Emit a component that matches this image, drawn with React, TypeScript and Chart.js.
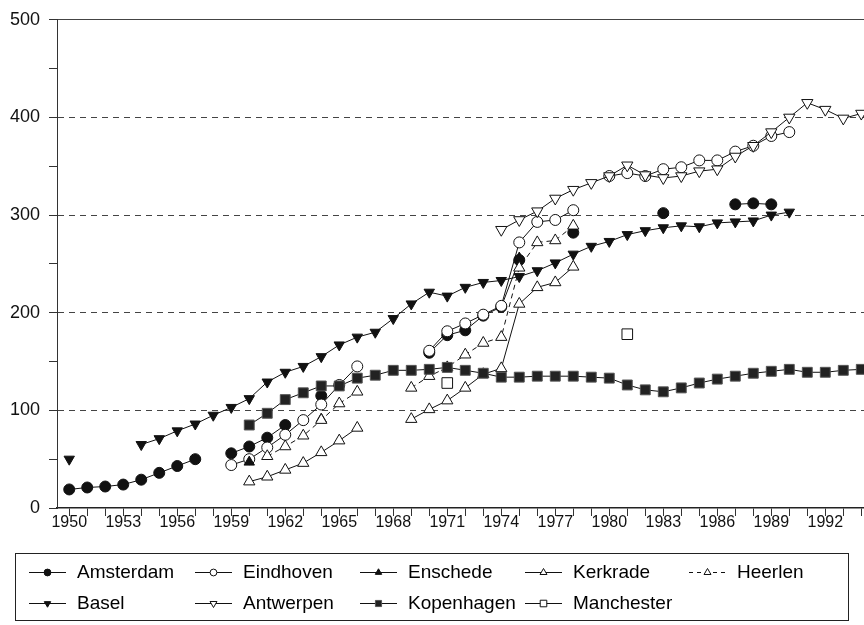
import React, { useEffect, useRef } from 'react';
import { Chart, registerables } from 'chart.js';
import { drawPoint } from 'chart.js/helpers';

Chart.register(...registerables);

const N = null;

const years = [
  1950, 1951, 1952, 1953, 1954, 1955, 1956, 1957, 1958, 1959,
  1960, 1961, 1962, 1963, 1964, 1965, 1966, 1967, 1968, 1969,
  1970, 1971, 1972, 1973, 1974, 1975, 1976, 1977, 1978, 1979,
  1980, 1981, 1982, 1983, 1984, 1985, 1986, 1987, 1988, 1989,
  1990, 1991, 1992, 1993, 1994,
];

const amsterdam = [
  19, 21, 22, 24, 29, 36, 43, 50, N, 56,
  63, 72, 85, N, 115, N, N, N, N, N,
  159, 177, 182, 197, 206, 254, N, N, 282, N,
  N, N, N, 302, N, N, N, 311, 312, 311,
  N, N, N, N, N,
];

const eindhoven = [
  N, N, N, N, N, N, N, N, N, 44,
  50, 62, 75, 90, 106, 126, 145, N, N, N,
  161, 181, 189, 198, 207, 272, 293, 295, 305, N,
  340, 343, 340, 347, 349, 356, 356, 365, 371, 381,
  385, N, N, N, N,
];

const enschede = [
  N, N, N, N, N, N, N, N, N, N,
  47, N, N, N, 91, N, N, N, N, N,
  N, N, N, N, N, 256, N, N, N, N,
  N, N, N, N, N, N, N, N, N, N,
  N, N, N, N, N,
];

const kerkrade = [
  N, N, N, N, N, N, N, N, N, N,
  27, 32, 39, 46, 57, 69, 82, N, N, 91,
  101, 110, 123, 137, 143, 209, 226, 231, 247, N,
  N, N, N, N, N, N, N, N, N, N,
  N, N, N, N, N,
];

const heerlen = [
  N, N, N, N, N, N, N, N, N, N,
  N, 53, 63, 74, 90, 107, 119, N, N, 123,
  135, 144, 157, 169, 175, 246, 272, 274, 289, N,
  N, N, N, N, N, N, N, N, N, N,
  N, N, N, N, N,
];

const basel = [
  50, N, N, N, 65, 71, 79, 86, 95, 103,
  112, 129, 139, 145, 155, 167, 175, 180, 194, 209,
  221, 217, 226, 231, 233, 237, 243, 251, 260, 268,
  273, 280, 284, 287, 289, 288, 292, 293, 294, 300,
  303, N, N, N, N,
];

const antwerpen = [
  N, N, N, N, N, N, N, N, N, N,
  N, N, N, N, N, N, N, N, N, N,
  N, N, N, N, 285, 295, 304, 317, 326, 333,
  340, 351, 341, 338, 340, 345, 347, 360, 371, 385,
  400, 415, 408, 399, 404,
];

const kopenhagen = [
  N, N, N, N, N, N, N, N, N, N,
  85, 97, 111, 118, 125, 125, 133, 136, 141, 141,
  142, 144, 141, 138, 134, 134, 135, 135, 135, 134,
  133, 126, 121, 119, 123, 128, 132, 135, 138, 140,
  142, 139, 139, 141, 142,
];

const manchester = [
  N, N, N, N, N, N, N, N, N, N,
  N, N, N, N, N, N, N, N, N, N,
  N, 128, N, N, N, N, N, N, N, N,
  N, 178, N, N, N, N, N, N, N, N,
  N, N, N, N, N,
];

const yTicks = [0, 100, 200, 300, 400, 500];

const FONT = '"Liberation Sans", Arial, sans-serif';
const INK = '#111';

type SeriesDef = {
  label: string;
  values: (number | null)[];
  style: string;
  rotation: number;
  filled: boolean;
  radius: number;
  dashed: boolean;
  row: number;
  col: number;
};

const series: SeriesDef[] = [
  { label: 'Amsterdam', values: amsterdam, style: 'circle', rotation: 0, filled: true, radius: 5.5, dashed: false, row: 0, col: 0 },
  { label: 'Eindhoven', values: eindhoven, style: 'circle', rotation: 0, filled: false, radius: 5.5, dashed: false, row: 0, col: 1 },
  { label: 'Enschede', values: enschede, style: 'triangle', rotation: 0, filled: true, radius: 6, dashed: false, row: 0, col: 2 },
  { label: 'Kerkrade', values: kerkrade, style: 'triangle', rotation: 0, filled: false, radius: 6.5, dashed: false, row: 0, col: 3 },
  { label: 'Heerlen', values: heerlen, style: 'triangle', rotation: 0, filled: false, radius: 6.5, dashed: true, row: 0, col: 4 },
  { label: 'Basel', values: basel, style: 'triangle', rotation: 180, filled: true, radius: 6, dashed: false, row: 1, col: 0 },
  { label: 'Antwerpen', values: antwerpen, style: 'triangle', rotation: 180, filled: false, radius: 6.5, dashed: false, row: 1, col: 1 },
  { label: 'Kopenhagen', values: kopenhagen, style: 'rect', rotation: 0, filled: true, radius: 7, dashed: false, row: 1, col: 2 },
  { label: 'Manchester', values: manchester, style: 'rect', rotation: 0, filled: false, radius: 7.5, dashed: false, row: 1, col: 3 },
];

const legendPlugin = {
  id: 'scanLegend',
  afterDraw(chart: any) {
    const ctx = chart.ctx as CanvasRenderingContext2D;
    const colText = [77, 243, 408, 573, 737];
    const rowY = [572, 603];
    ctx.save();
    ctx.strokeStyle = '#222';
    ctx.lineWidth = 1;
    ctx.setLineDash([]);
    ctx.strokeRect(15.5, 553.5, 833, 67);
    series.forEach((s, i) => {
      const ds = chart.data.datasets[i];
      const tx = colText[s.col];
      const y = rowY[s.row];
      ctx.strokeStyle = INK;
      ctx.lineWidth = 1;
      ctx.setLineDash(s.dashed ? [4, 4] : []);
      ctx.beginPath();
      ctx.moveTo(tx - 48, y + 0.5);
      ctx.lineTo(tx - 11, y + 0.5);
      ctx.stroke();
      ctx.setLineDash([]);
      ctx.fillStyle = ds.pointBackgroundColor;
      ctx.strokeStyle = ds.pointBorderColor;
      drawPoint(ctx, { pointStyle: s.style, rotation: s.rotation, radius: s.radius * 0.62, borderWidth: 1 } as any, tx - 29.5, y + 0.5);
      ctx.fillStyle = '#000';
      ctx.font = `19px ${FONT}`;
      ctx.textBaseline = 'middle';
      ctx.textAlign = 'left';
      ctx.fillText(s.label, tx, y + 1);
    });
    ctx.restore();
  },
};

export default function App() {
  const ref = useRef<HTMLCanvasElement | null>(null);

  useEffect(() => {
    if (!ref.current) return;
    const datasets = series.map((s, i) => ({
      label: s.label,
      data: years.map((yr, k) => ({ x: yr, y: s.values[k] })),
      borderColor: INK,
      borderWidth: 1,
      borderDash: s.dashed ? [5, 4] : [],
      backgroundColor: s.filled ? '#111' : '#fff',
      pointBackgroundColor: s.style === 'rect' && s.filled ? '#222' : s.filled ? '#111' : '#fff',
      pointBorderColor: s.style === 'rect' && s.filled ? '#555' : INK,
      pointBorderWidth: 1,
      pointStyle: s.style,
      pointRotation: s.rotation,
      pointRadius: s.radius,
      pointHoverRadius: s.radius,
      spanGaps: false,
      fill: false,
      tension: 0,
      clip: false as any,
      order: 20 - i,
    }));

    const chart = new Chart(ref.current, {
      type: 'line',
      data: { datasets },
      plugins: [legendPlugin],
      options: {
        animation: false,
        responsive: false,
        maintainAspectRatio: false,
        layout: { autoPadding: false, padding: { left: 0, right: 0, top: 17, bottom: 87 } },
        plugins: {
          legend: { display: false },
          tooltip: { enabled: false },
        },
        scales: {
          x: {
            type: 'linear',
            min: 1949.32,
            max: 1994.15,
            ticks: {
              stepSize: 1,
              includeBounds: false,
              autoSkip: false,
              maxRotation: 0,
              minRotation: 0,
              padding: -3,
              color: INK,
              font: { family: FONT, size: 16 },
              callback: (v: any) => (Math.round(v) % 3 === 0 ? String(Math.round(v)) : ''),
            },
            grid: {
              drawOnChartArea: false,
              tickLength: 8,
              tickColor: '#333',
              tickWidth: 1,
            },
            border: { color: '#222', width: 1.5 },
            afterFit: (s: any) => {
              s.height = 30;
              s.paddingLeft = 0;
              s.paddingRight = 0;
            },
          },
          y: {
            min: yTicks[0],
            max: yTicks[yTicks.length - 1],
            ticks: {
              stepSize: 50,
              padding: 9,
              color: INK,
              font: { family: FONT, size: 18 },
              callback: (v: any) => (yTicks.includes(v) ? String(v) : ''),
            },
            grid: {
              color: (c: any) => (c.tick && yTicks.includes(c.tick.value) && c.tick.value > 0 ? '#444' : 'rgba(0,0,0,0)'),
              lineWidth: 1,
              tickLength: 8,
              tickColor: '#333',
              tickWidth: 1,
            },
            border: {
              color: '#333',
              width: 1,
              dash: (c: any) => (c.tick && c.tick.value < 500 ? [6, 5] : []),
            } as any,
            afterFit: (s: any) => {
              s.width = 57;
            },
          },
        },
      } as any,
    });
    return () => chart.destroy();
  }, []);

  return (
    <div style={{ position: 'absolute', left: 0, top: 0, width: 864, height: 625, background: '#fff' }}>
      <canvas ref={ref} width={864} height={625} />
    </div>
  );
}
